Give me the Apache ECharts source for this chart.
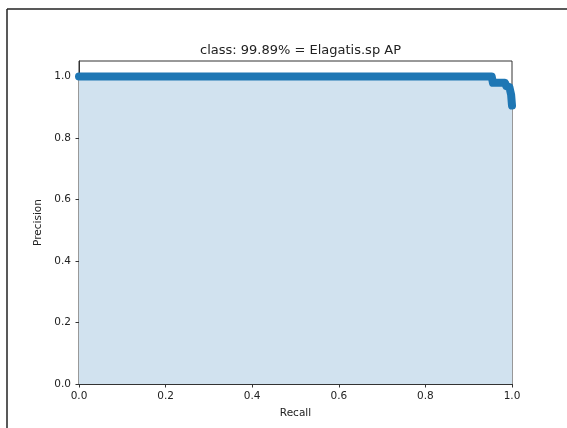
<!DOCTYPE html>
<html>
<head>
<meta charset="utf-8">
<script src="https://cdn.jsdelivr.net/npm/echarts@6/dist/echarts.min.js"></script>
<style>
html,body{margin:0;padding:0;background:#fff;}
#chart{width:567px;height:428px;}
</style>
</head>
<body>
<div id="chart"></div>
<script>
const titleText = 'class: 99.89% = Elagatis.sp AP';
const recall = [0, 0.953, 0.956, 0.984, 0.987, 0.994, 0.998, 1.0];
const precision = [1.0, 1.0, 0.979, 0.979, 0.968, 0.965, 0.94, 0.905];
const xTicks = [0, 0.2, 0.4, 0.6, 0.8, 1.0];
const yTicks = [0, 0.2, 0.4, 0.6, 0.8, 1.0];

const points = recall.map((r, i) => [r, precision[i]]);
const font = 'DejaVu Sans';
const chart = echarts.init(document.getElementById('chart'), null, {renderer: 'canvas'});
chart.setOption({
  backgroundColor: '#fff',
  animation: false,
  title: {
    text: titleText,
    left: 295.5, textAlign: 'center', top: 39,
    textStyle: {fontFamily: font, fontSize: 13, fontWeight: 'normal', color: '#222'}
  },
  grid: {left: 79, right: 55, top: 61, bottom: 44, show: true, borderColor: '#333', borderWidth: 1, backgroundColor: 'transparent'},
  xAxis: {
    type: 'value', min: 0, max: 1, interval: 0.2,
    name: 'Recall', nameLocation: 'middle', nameGap: 24,
    nameTextStyle: {fontFamily: font, fontSize: 10.5, color: '#222'},
    axisLine: {show: true, onZero: false, lineStyle: {color: '#333', width: 1}},
    axisTick: {show: true, length: 3.5, lineStyle: {color: '#333'}, customValues: xTicks},
    axisLabel: {fontFamily: font, fontSize: 10.5, color: '#222', margin: 7, customValues: xTicks, formatter: v => v.toFixed(1)},
    splitLine: {show: false}
  },
  yAxis: {
    type: 'value', min: 0, max: 1.05,
    name: 'Precision', nameLocation: 'middle', nameGap: 33, nameRotate: 90,
    nameTextStyle: {fontFamily: font, fontSize: 10.5, color: '#222'},
    axisLine: {show: true, onZero: false, lineStyle: {color: '#333', width: 1}},
    axisTick: {show: true, length: 3.5, lineStyle: {color: '#333'}, customValues: yTicks},
    axisLabel: {fontFamily: font, fontSize: 10.5, color: '#222', margin: 8, customValues: yTicks, formatter: v => v.toFixed(1)},
    splitLine: {show: false}
  },
  series: [{
    type: 'line',
    data: points,
    symbol: 'none',
    clip: false,
    lineStyle: {color: '#1f77b4', width: 8, cap: 'round', join: 'round'},
    areaStyle: {color: '#d1e2ef', opacity: 1, origin: 'start'},
    z: 3
  }],
  graphic: [
    {type: 'line', shape: {x1: 7, y1: 9, x2: 567, y2: 9}, style: {stroke: '#222', lineWidth: 1.5}, silent: true},
    {type: 'line', shape: {x1: 7, y1: 9, x2: 7, y2: 428}, style: {stroke: '#222', lineWidth: 1.5}, silent: true}
  ]
});
</script>
</body>
</html>
